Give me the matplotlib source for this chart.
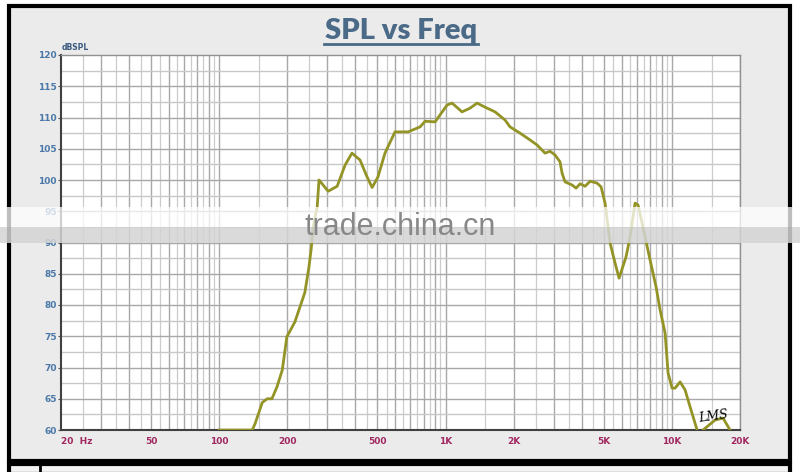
import numpy as np
import matplotlib
matplotlib.use("Agg")
import matplotlib.pyplot as plt
from matplotlib.patches import Rectangle
from matplotlib.lines import Line2D

# ---- data ----
freq_hz = [100, 140, 144, 155, 163, 171, 180, 190, 199, 216, 239, 249, 255, 260,
           271, 276, 303, 332, 360, 386, 419, 450, 474, 503, 540, 598, 683, 772,
           812, 899, 1016, 1069, 1183, 1284, 1378, 1526, 1655, 1832, 1927, 2134,
           2364, 2538, 2752, 2896, 3048, 3206, 3272, 3374, 3624, 3774, 3932, 4136,
           4352, 4672, 4866, 5068, 5334, 5612, 5844, 6274, 6536, 6878, 7090, 7386,
           8012, 8516, 8872, 9334, 9624, 10024, 10334, 10874, 11442, 12038, 12926,
           13300, 13738, 15524, 16844, 17540, 18078, 19000]
spl_db = [60.0, 60.0, 61.0, 64.4, 65.0, 65.0, 66.9, 69.6, 74.9, 77.3, 82.0, 86.0, 89.0, 92.5,
          95.7, 100.0, 98.2, 99.0, 102.4, 104.3, 103.2, 100.5, 98.8, 100.5, 104.3, 107.7, 107.7, 108.5,
          109.4, 109.3, 112.0, 112.3, 110.9, 111.5, 112.3, 111.5, 110.9, 109.6, 108.5, 107.5,
          106.4, 105.6, 104.3, 104.6, 104.0, 102.9, 101.1, 99.7, 99.2, 98.7, 99.4, 99.0,
          99.8, 99.5, 98.9, 96.3, 89.9, 86.7, 84.3, 87.7, 90.9, 96.3, 96.0, 93.1,
          87.2, 82.9, 79.2, 75.5, 69.1, 66.7, 66.7, 67.7, 66.4, 63.7, 60.0,
          58.5, 60.0, 61.6, 61.9, 60.8, 60.0, 58.0]

y_ticks = [60, 65, 70, 75, 80, 85, 90, 95, 100, 105, 110, 115, 120]
x_ticks = [20, 50, 100, 200, 500, 1000, 2000, 5000, 10000, 20000]
x_tick_labels = ["20  Hz", "50", "100", "200", "500", "1K", "2K", "5K", "10K", "20K"]

W, H = 800, 472
fig = plt.figure(figsize=(W / 100, H / 100), dpi=100)
fig.patch.set_facecolor("white")

def fx(px):
    return px / W

def fy(py):
    return 1 - py / H

# outer frame background and border
fig.patches.append(Rectangle((fx(9), fy(461)), fx(781), 455 / H, transform=fig.transFigure,
                             facecolor="#ebebeb", edgecolor="black", linewidth=3, zorder=-2))
# bottom strip box
fig.patches.append(Rectangle((fx(9), fy(474)), fx(781), 10 / H, transform=fig.transFigure,
                             facecolor="#f4f4f4", edgecolor="black", linewidth=3, zorder=-2))
fig.lines.append(Line2D([fx(40), fx(40)], [fy(462), fy(472)], transform=fig.transFigure,
                        color="black", linewidth=2, zorder=-1))

ax = fig.add_axes([fx(61), fy(430), fx(740) - fx(61), (430 - 55) / H])
ax.set_zorder(1)
ax.set_facecolor("white")
ax.set_xscale("log")
ax.set_xlim(20, 20000)
ax.set_ylim(60, 120)

# grid lines (log paper)
v_major = []
v_minor = []
for f in np.arange(25, 101, 5):
    (v_major if f % 10 == 0 else v_minor).append(f)
for f in np.arange(150, 1001, 50):
    (v_major if f % 100 == 0 else v_minor).append(f)
for f in np.arange(1500, 10001, 500):
    (v_major if f % 1000 == 0 else v_minor).append(f)
for f in np.arange(15000, 20001, 5000):
    (v_major if f % 10000 == 0 else v_minor).append(f)
for f in v_minor:
    ax.axvline(f, color="#cccccc", linewidth=0.9, zorder=1)
for f in v_major:
    ax.axvline(f, color="#a8a8a8", linewidth=1.0, zorder=1)
for y in np.arange(62.5, 120, 2.5):
    ax.axhline(y, color="#c8c8c8" if y % 5 else "#a8a8a8", linewidth=1.0, zorder=1)

ax.plot(freq_hz, spl_db, color="#939326", linewidth=2.0, zorder=3, clip_on=True)

ax.set_yticks(y_ticks)
ax.set_yticklabels([str(v) for v in y_ticks], fontsize=6.5, fontweight="bold", color="#4a78a8")
ax.set_xticks(x_ticks)
ax.set_xticklabels(x_tick_labels, fontsize=6.5, fontweight="bold", color="#a02860")
ax.xaxis.set_minor_locator(matplotlib.ticker.NullLocator())
ax.tick_params(axis="y", length=2, width=0.8, color="#555555", pad=1)
ax.tick_params(axis="x", length=0, pad=5)
for lbl in ax.get_xticklabels()[:1]:
    lbl.set_horizontalalignment("left")
for s in ["left", "bottom"]:
    ax.spines[s].set_color("#404040")
    ax.spines[s].set_linewidth(1.5)
for s in ["top", "right"]:
    ax.spines[s].set_color("#909090")
    ax.spines[s].set_linewidth(1.0)

fig.text(fx(62), fy(47), "dBSPL", fontsize=5.5, fontweight="bold", color="#3a5a80",
         ha="left", va="center")

# title
fig.text(fx(401), fy(31), "SPL vs Freq", fontsize=21, fontweight="heavy", color="#4a6a88",
         ha="center", va="center", family="Lato")
fig.lines.append(Line2D([fx(324), fx(478)], [fy(44), fy(44)], transform=fig.transFigure,
                        color="#4a6a88", linewidth=2))

# LMS logo mark
ax.text(15200, 62.2, "LMS", fontsize=9, fontstyle="italic", family="DejaVu Serif",
        color="black", ha="center", va="center", zorder=4, rotation=8)

# watermark band
fig.patches.append(Rectangle((0, fy(227)), 1, 20 / H, transform=fig.transFigure,
                             facecolor="white", alpha=0.75, edgecolor="none", zorder=5))
fig.patches.append(Rectangle((0, fy(243)), 1, 16 / H, transform=fig.transFigure,
                             facecolor="#d4d4d4", alpha=0.85, edgecolor="none", zorder=5))
fig.text(fx(400), fy(227), "trade.china.cn", fontsize=22, color="#888888", ha="center",
         va="center", zorder=6, family="Liberation Sans")

fig.savefig("out.png", dpi=100)
